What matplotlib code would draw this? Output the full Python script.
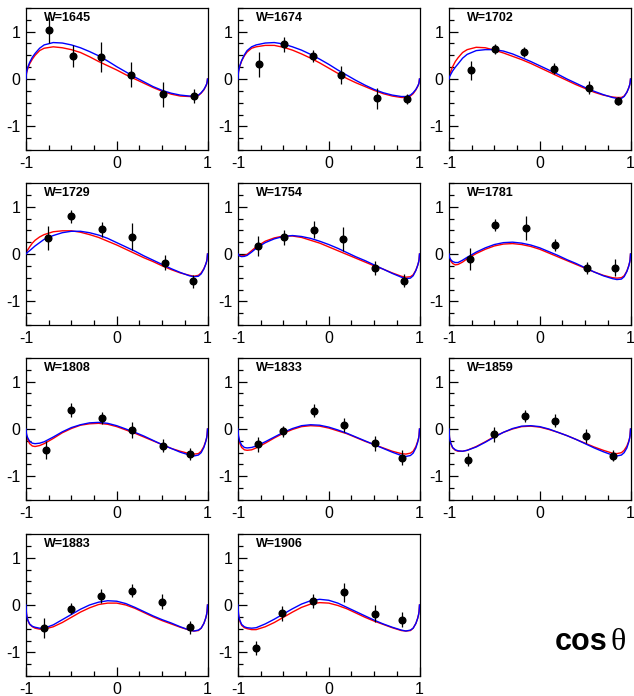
import matplotlib
matplotlib.use("Agg")
import matplotlib.pyplot as plt
from matplotlib.ticker import MultipleLocator, FixedLocator, FixedFormatter

plt.rcParams['font.family'] = ['Liberation Sans', 'DejaVu Sans']

w_labels = ["W=1645", "W=1674", "W=1702", "W=1729", "W=1754", "W=1781",
            "W=1808", "W=1833", "W=1859", "W=1883", "W=1906"]

cos_x = [
    [-0.747, -0.487, -0.176, 0.161, 0.509, 0.846],
    [-0.768, -0.489, -0.173, 0.140, 0.537, 0.857],
    [-0.753, -0.491, -0.170, 0.159, 0.539, 0.860],
    [-0.761, -0.505, -0.167, 0.163, 0.527, 0.839],
    [-0.779, -0.493, -0.165, 0.162, 0.511, 0.827],
    [-0.771, -0.491, -0.155, 0.166, 0.520, 0.827],
    [-0.776, -0.505, -0.163, 0.163, 0.508, 0.806],
    [-0.783, -0.504, -0.165, 0.165, 0.511, 0.805],
    [-0.790, -0.506, -0.162, 0.173, 0.509, 0.812],
    [-0.798, -0.508, -0.171, 0.167, 0.501, 0.809],
    [-0.805, -0.515, -0.173, 0.169, 0.511, 0.809],
]
asym = [
    [1.035, 0.486, 0.458, 0.092, -0.324, -0.352],
    [0.31, 0.73, 0.486, 0.085, -0.41, -0.42],
    [0.186, 0.634, 0.572, 0.22, -0.18, -0.46],
    [0.34, 0.794, 0.525, 0.369, -0.184, -0.574],
    [0.168, 0.35, 0.517, 0.32, -0.29, -0.56],
    [-0.105, 0.615, 0.552, 0.196, -0.30, -0.287],
    [-0.454, 0.404, 0.234, -0.028, -0.355, -0.525],
    [-0.326, -0.05, 0.383, 0.078, -0.305, -0.603],
    [-0.645, -0.113, 0.277, 0.177, -0.149, -0.56],
    [-0.49, -0.078, 0.184, 0.305, 0.071, -0.468],
    [-0.915, -0.177, 0.092, 0.27, -0.184, -0.312],
]
asym_err = [
    [0.28, 0.24, 0.32, 0.26, 0.26, 0.15],
    [0.26, 0.15, 0.13, 0.19, 0.23, 0.10],
    [0.20, 0.11, 0.10, 0.12, 0.14, 0.09],
    [0.25, 0.14, 0.16, 0.28, 0.16, 0.14],
    [0.22, 0.15, 0.17, 0.25, 0.15, 0.13],
    [0.23, 0.13, 0.25, 0.13, 0.13, 0.18],
    [0.19, 0.14, 0.13, 0.17, 0.14, 0.13],
    [0.15, 0.12, 0.14, 0.15, 0.16, 0.16],
    [0.14, 0.16, 0.13, 0.14, 0.15, 0.12],
    [0.21, 0.11, 0.15, 0.14, 0.16, 0.14],
    [0.15, 0.16, 0.15, 0.20, 0.18, 0.16],
]

curve_x = [-1, -0.995, -0.99, -0.98, -0.96, -0.93, -0.9, -0.85, -0.8, -0.7, -0.6,
           -0.5, -0.4, -0.3, -0.2, -0.1, 0, 0.1, 0.2, 0.3, 0.4, 0.5, 0.6, 0.7,
           0.8, 0.85, 0.9, 0.93, 0.96, 0.98, 0.99, 0.995, 1]

blue_curves = [
    [0, 0.13, 0.18, 0.25, 0.35, 0.46, 0.54, 0.65, 0.72, 0.77, 0.76, 0.72, 0.66, 0.58, 0.49, 0.38, 0.26,
     0.15, 0.04, -0.06, -0.16, -0.24, -0.30, -0.34, -0.36, -0.36, -0.34, -0.29, -0.22, -0.15, -0.11, -0.07, 0],
    [0, 0.15, 0.20, 0.28, 0.39, 0.51, 0.60, 0.68, 0.72, 0.76, 0.77, 0.74, 0.68, 0.61, 0.52, 0.42, 0.31,
     0.19, 0.08, -0.03, -0.13, -0.22, -0.29, -0.34, -0.37, -0.37, -0.34, -0.29, -0.22, -0.15, -0.11, -0.07, 0],
    [0, 0.04, 0.06, 0.10, 0.17, 0.25, 0.32, 0.44, 0.52, 0.60, 0.62, 0.62, 0.59, 0.53, 0.45, 0.37, 0.28,
     0.19, 0.10, 0.0, -0.09, -0.18, -0.26, -0.33, -0.39, -0.41, -0.41, -0.37, -0.28, -0.19, -0.13, -0.09, 0],
    [0, 0.01, 0.02, 0.04, 0.07, 0.12, 0.17, 0.24, 0.31, 0.39, 0.45, 0.48, 0.48, 0.45, 0.40, 0.33, 0.24,
     0.15, 0.06, -0.04, -0.13, -0.22, -0.31, -0.39, -0.46, -0.48, -0.47, -0.42, -0.32, -0.22, -0.16, -0.11, 0],
    [0, -0.02, -0.03, -0.045, -0.055, -0.05, -0.03, 0.04, 0.12, 0.24, 0.32, 0.37, 0.39, 0.37, 0.33, 0.27, 0.20,
     0.12, 0.03, -0.06, -0.14, -0.23, -0.32, -0.41, -0.49, -0.52, -0.51, -0.46, -0.35, -0.24, -0.17, -0.12, 0],
    [0, -0.06, -0.09, -0.12, -0.16, -0.18, -0.18, -0.13, -0.07, 0.04, 0.13, 0.20, 0.24, 0.25, 0.23, 0.19, 0.13,
     0.05, -0.03, -0.12, -0.20, -0.29, -0.38, -0.46, -0.52, -0.54, -0.53, -0.48, -0.37, -0.26, -0.18, -0.13, 0],
    [0, -0.10, -0.14, -0.19, -0.26, -0.30, -0.31, -0.30, -0.27, -0.17, -0.06, 0.03, 0.09, 0.13, 0.14, 0.12, 0.07,
     0.0, -0.07, -0.15, -0.24, -0.33, -0.41, -0.49, -0.55, -0.57, -0.55, -0.50, -0.39, -0.27, -0.19, -0.13, 0],
    [0, -0.14, -0.19, -0.26, -0.34, -0.39, -0.40, -0.39, -0.36, -0.27, -0.17, -0.07, 0.01, 0.07, 0.09, 0.08, 0.04,
     -0.02, -0.09, -0.17, -0.25, -0.33, -0.41, -0.49, -0.56, -0.58, -0.56, -0.51, -0.40, -0.28, -0.20, -0.14, 0],
    [0, -0.17, -0.23, -0.30, -0.39, -0.44, -0.46, -0.47, -0.45, -0.38, -0.28, -0.17, -0.07, 0.01, 0.06, 0.07, 0.05,
     0.0, -0.07, -0.14, -0.22, -0.31, -0.40, -0.48, -0.55, -0.57, -0.55, -0.50, -0.40, -0.28, -0.20, -0.14, 0],
    [0, -0.18, -0.25, -0.32, -0.40, -0.45, -0.47, -0.49, -0.49, -0.42, -0.31, -0.20, -0.09, 0.0, 0.06, 0.09, 0.08,
     0.03, -0.05, -0.14, -0.23, -0.31, -0.38, -0.46, -0.53, -0.55, -0.53, -0.49, -0.39, -0.28, -0.20, -0.14, 0],
    [0, -0.18, -0.25, -0.32, -0.41, -0.46, -0.48, -0.49, -0.48, -0.40, -0.30, -0.19, -0.08, 0.02, 0.09, 0.12, 0.10,
     0.04, -0.05, -0.14, -0.23, -0.32, -0.40, -0.47, -0.53, -0.55, -0.53, -0.49, -0.39, -0.28, -0.20, -0.14, 0],
]
red_curves = [
    [0, 0.12, 0.16, 0.22, 0.32, 0.42, 0.50, 0.60, 0.65, 0.68, 0.66, 0.62, 0.56, 0.47, 0.37, 0.28, 0.19,
     0.09, 0.0, -0.09, -0.18, -0.26, -0.32, -0.36, -0.37, -0.37, -0.35, -0.30, -0.23, -0.16, -0.11, -0.08, 0],
    [0, 0.15, 0.20, 0.27, 0.38, 0.49, 0.57, 0.65, 0.68, 0.71, 0.71, 0.67, 0.61, 0.53, 0.44, 0.34, 0.23,
     0.12, 0.01, -0.08, -0.16, -0.24, -0.31, -0.36, -0.39, -0.39, -0.36, -0.31, -0.23, -0.16, -0.11, -0.08, 0],
    [0, 0.08, 0.11, 0.16, 0.26, 0.37, 0.45, 0.56, 0.62, 0.67, 0.66, 0.61, 0.55, 0.48, 0.41, 0.33, 0.24,
     0.15, 0.06, -0.03, -0.12, -0.20, -0.28, -0.34, -0.38, -0.39, -0.39, -0.36, -0.28, -0.19, -0.13, -0.09, 0],
    [0, 0.04, 0.06, 0.09, 0.15, 0.23, 0.29, 0.36, 0.41, 0.47, 0.49, 0.49, 0.46, 0.41, 0.35, 0.27, 0.19,
     0.10, 0.01, -0.08, -0.16, -0.25, -0.33, -0.40, -0.45, -0.47, -0.45, -0.40, -0.31, -0.22, -0.16, -0.11, 0],
    [0, -0.02, -0.025, -0.035, -0.04, -0.03, -0.01, 0.07, 0.15, 0.27, 0.34, 0.38, 0.38, 0.35, 0.29, 0.23, 0.15,
     0.07, -0.01, -0.09, -0.17, -0.25, -0.32, -0.40, -0.47, -0.49, -0.48, -0.44, -0.34, -0.24, -0.17, -0.12, 0],
    [0, -0.08, -0.11, -0.15, -0.20, -0.23, -0.22, -0.17, -0.10, 0.01, 0.10, 0.17, 0.21, 0.22, 0.20, 0.16, 0.10,
     0.02, -0.06, -0.14, -0.22, -0.30, -0.38, -0.45, -0.50, -0.51, -0.50, -0.46, -0.36, -0.25, -0.18, -0.13, 0],
    [0, -0.12, -0.17, -0.23, -0.31, -0.36, -0.37, -0.35, -0.31, -0.20, -0.08, 0.01, 0.08, 0.11, 0.12, 0.10, 0.05,
     -0.02, -0.09, -0.17, -0.25, -0.33, -0.41, -0.47, -0.52, -0.53, -0.52, -0.47, -0.37, -0.26, -0.19, -0.13, 0],
    [0, -0.16, -0.22, -0.30, -0.39, -0.44, -0.45, -0.44, -0.40, -0.30, -0.19, -0.09, -0.01, 0.05, 0.07, 0.06, 0.02,
     -0.04, -0.10, -0.18, -0.26, -0.33, -0.40, -0.47, -0.52, -0.53, -0.51, -0.47, -0.37, -0.26, -0.19, -0.13, 0],
    [0, -0.18, -0.24, -0.31, -0.40, -0.45, -0.47, -0.47, -0.45, -0.37, -0.27, -0.16, -0.07, 0.0, 0.05, 0.06, 0.04,
     -0.01, -0.07, -0.14, -0.22, -0.30, -0.38, -0.45, -0.51, -0.52, -0.50, -0.45, -0.36, -0.26, -0.19, -0.13, 0],
    [0, -0.18, -0.25, -0.32, -0.41, -0.46, -0.49, -0.51, -0.51, -0.46, -0.37, -0.26, -0.15, -0.06, 0.01, 0.04, 0.04,
     0.0, -0.07, -0.16, -0.25, -0.33, -0.40, -0.47, -0.53, -0.55, -0.54, -0.49, -0.39, -0.28, -0.20, -0.14, 0],
    [0, -0.19, -0.26, -0.34, -0.43, -0.48, -0.50, -0.52, -0.52, -0.46, -0.37, -0.26, -0.15, -0.05, 0.02, 0.05, 0.04,
     -0.01, -0.08, -0.17, -0.26, -0.34, -0.41, -0.48, -0.54, -0.55, -0.54, -0.49, -0.39, -0.28, -0.20, -0.14, 0],
]

x_ticks = [-1, 0, 1]
x_ticklabels = ["-1", "0", "1"]
y_ticks = [-1, 0, 1]
y_ticklabels = ["-1", "0", "1"]

W, H = 634, 696
fig = plt.figure(figsize=(W / 100, H / 100), dpi=100)

col_left = [26, 238, 449]
row_top = [8, 183, 358, 534]
aw, ah = 181.5, 142

for i, lab in enumerate(w_labels):
    r, c = divmod(i, 3)
    ax = fig.add_axes([col_left[c] / W, 1 - (row_top[r] + ah) / H, aw / W, ah / H])
    ax.plot(curve_x, red_curves[i], color='red', lw=1.0, zorder=2)
    ax.plot(curve_x, blue_curves[i], color='blue', lw=1.0, zorder=3)
    ax.errorbar(cos_x[i], asym[i], yerr=asym_err[i], fmt='o', color='black',
                ms=4.8, elinewidth=0.9, capsize=0, zorder=4)
    ax.set_xlim(-1, 1)
    ax.set_ylim(-1.5, 1.5)
    ax.xaxis.set_major_locator(FixedLocator(x_ticks))
    ax.xaxis.set_major_formatter(FixedFormatter(x_ticklabels))
    ax.yaxis.set_major_locator(FixedLocator(y_ticks))
    ax.yaxis.set_major_formatter(FixedFormatter(y_ticklabels))
    ax.xaxis.set_minor_locator(MultipleLocator(0.25))
    ax.yaxis.set_minor_locator(MultipleLocator(0.25))
    ax.tick_params(which='both', direction='in', top=False, right=False,
                   width=0.9, labelsize=11.5, color='black')
    ax.tick_params(which='major', length=6.5, pad=4)
    ax.tick_params(which='minor', length=3.3)
    for s in ax.spines.values():
        s.set_linewidth(0.9)
    ax.text(0.1, 0.905, lab, transform=ax.transAxes, fontsize=9,
            fontweight='bold', va='baseline', ha='left')

fig.text(555 / W, 1 - 650 / H, "cos", fontsize=22, fontweight='bold',
         va='baseline', ha='left')
fig.text(611 / W, 1 - 650 / H, "θ", fontsize=23, family=['Liberation Serif', 'DejaVu Serif'],
         va='baseline', ha='left')

fig.savefig("out.png", dpi=100)
